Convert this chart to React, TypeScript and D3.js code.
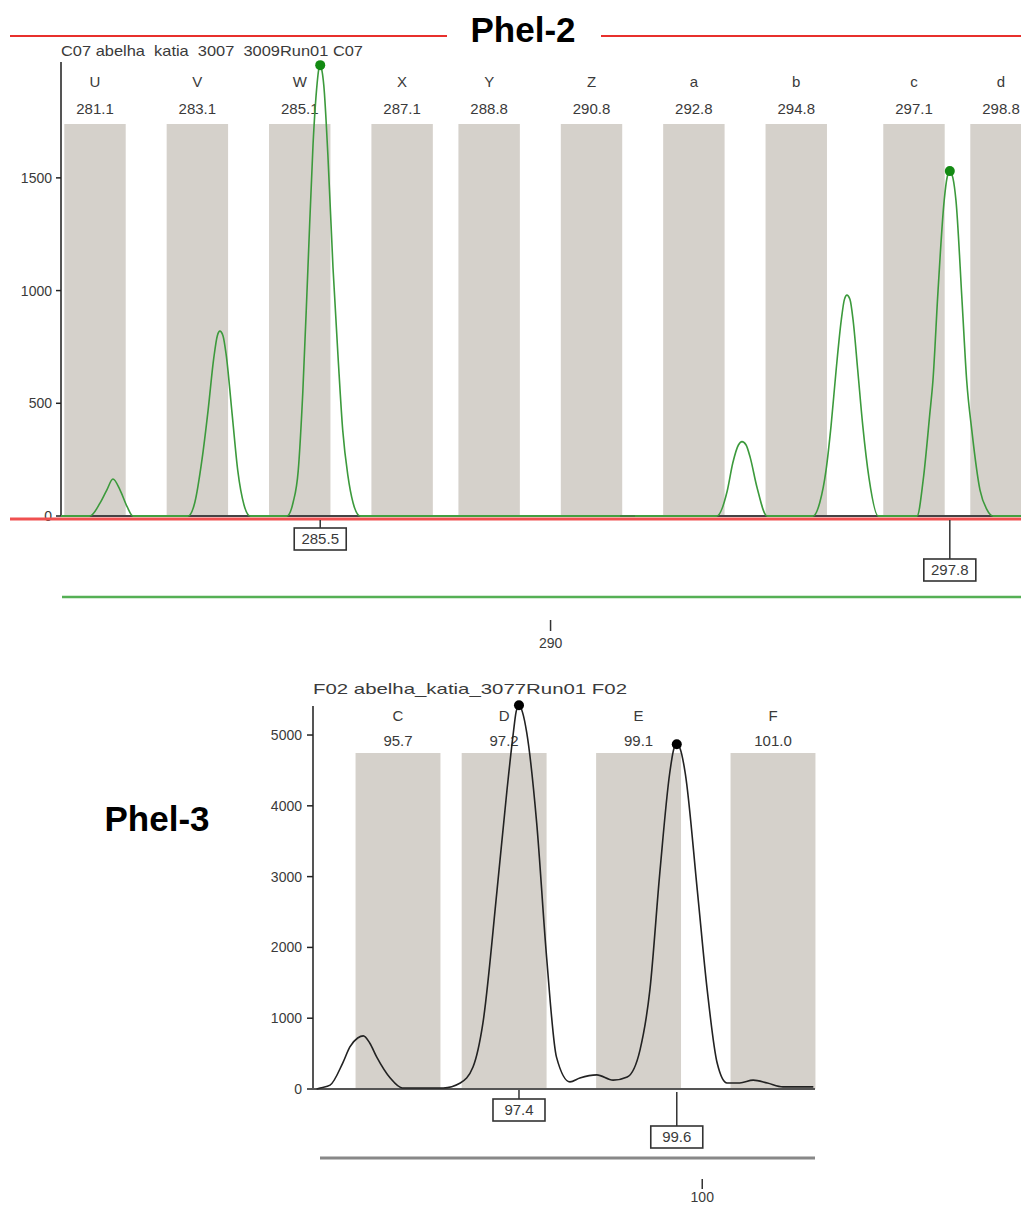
import React from "react";
import * as d3 from "d3";

// ---- Phel-2 (top panel) ----
const phel2Title = "Phel-2";
const phel2Sample = "C07 abelha  katia  3007  3009Run01 C07";
const phel2BinNames = ["U", "V", "W", "X", "Y", "Z", "a", "b", "c", "d"];
const phel2BinSizes = [281.1, 283.1, 285.1, 287.1, 288.8, 290.8, 292.8, 294.8, 297.1, 298.8];
const phel2YTicks = [0, 500, 1000, 1500];
const phel2XTicks = [290];
// trace: [size bp, RFU]
const phel2Trace: [number, number][] = [
  [280.44, 0], [281.0, 0], [281.2, 58], [281.33, 115], [281.45, 164], [281.59, 115], [281.73, 40], [281.84, 0],
  [282.92, 0], [283.05, 60], [283.19, 250], [283.31, 470], [283.42, 700], [283.49, 800], [283.54, 820],
  [283.6, 800], [283.66, 720], [283.78, 450], [283.89, 200], [284.01, 50], [284.13, 0],
  [284.85, 0], [284.97, 60], [285.07, 200], [285.16, 550], [285.26, 1100], [285.36, 1650], [285.44, 1920],
  [285.47, 1980], [285.5, 2000], [285.53, 1980], [285.57, 1910], [285.65, 1600], [285.75, 1100],
  [285.85, 700], [285.94, 380], [286.04, 180], [286.14, 60], [286.28, 0],
  [293.25, 0], [293.45, 110], [293.56, 235], [293.67, 315], [293.74, 330], [293.82, 315], [293.9, 260],
  [294.03, 130], [294.23, 0],
  [295.13, 0], [295.26, 60], [295.38, 200], [295.48, 400], [295.58, 650], [295.68, 870], [295.74, 960],
  [295.79, 980], [295.85, 960], [295.91, 870], [296.0, 650], [296.1, 400], [296.22, 170], [296.4, 0],
  [297.16, 0], [297.28, 160], [297.41, 455], [297.47, 600], [297.57, 1000], [297.69, 1400], [297.75, 1505],
  [297.8, 1530], [297.86, 1500], [297.92, 1400], [298.04, 950], [298.13, 600], [298.23, 380], [298.39, 115],
  [298.52, 30], [298.64, 0],
  [299.2, 0],
];
// peak area spans under the trace
const phel2Spans: [number, number][] = [
  [281.0, 281.84], [282.92, 284.13], [284.85, 286.28], [291.36, 291.65],
  [293.25, 294.23], [295.13, 296.4], [297.16, 298.64],
];
const phel2CallSizes = [285.5, 297.8];
const phel2CallHeights = [2000, 1530];
const phel2CallLabels = ["285.5", "297.8"];

// ---- Phel-3 (bottom panel) ----
const phel3Title = "Phel-3";
const phel3Sample = "F02 abelha_katia_3077Run01 F02";
const phel3BinNames = ["C", "D", "E", "F"];
const phel3BinSizes = [95.7, 97.2, 99.1, 101.0];
const phel3YTicks = [0, 1000, 2000, 3000, 4000, 5000];
const phel3XTicks = [100];
const phel3Trace: [number, number][] = [
  [94.55, 0], [94.6, 15], [94.74, 55], [94.92, 370], [95.02, 595], [95.13, 720], [95.21, 750], [95.3, 650],
  [95.4, 450], [95.59, 155], [95.76, 15], [96.34, 15], [96.58, 85], [96.76, 310], [96.9, 930], [97.1, 2810],
  [97.24, 4220], [97.33, 5030], [97.37, 5330], [97.41, 5420], [97.46, 5320], [97.52, 5030], [97.66, 3760],
  [97.8, 1865], [97.94, 450], [98.13, 100], [98.27, 155], [98.51, 200], [98.74, 125], [98.94, 170],
  [99.12, 550], [99.26, 1400], [99.4, 3050], [99.54, 4460], [99.6, 4810], [99.64, 4870], [99.69, 4800],
  [99.76, 4460], [99.93, 2810], [100.07, 1400], [100.21, 370], [100.35, 85], [100.53, 85], [100.72, 125],
  [100.92, 85], [101.14, 30], [101.57, 30],
];
const phel3CallSizes = [97.41, 99.64];
const phel3CallHeights = [5420, 4870];
const phel3CallLabels = ["97.4", "99.6"];

const FONT = "'Liberation Sans', Arial, sans-serif";
const TXT = "#3a3a3a";
const BIN = "#d5d1cb";

function LabelBox({ x, y, text }: { x: number; y: number; text: string }) {
  const w = 52;
  const h = 22;
  return (
    <g>
      <rect x={x - w / 2} y={y} width={w} height={h} fill="white" stroke="#333" strokeWidth={1.6} />
      <text x={x} y={y + h / 2 + 5} textAnchor="middle" fontSize={15} fill={TXT} fontFamily={FONT}>
        {text}
      </text>
    </g>
  );
}

export default function App() {
  // top scales
  const x2 = d3.scaleLinear().domain([281.1, 298.8]).range([95, 1001]);
  const y2 = d3.scaleLinear().domain([0, 2014]).range([516, 62]);
  const line2 = d3.line<[number, number]>().x(d => x2(d[0])).y(d => y2(d[1])).curve(d3.curveMonotoneX);

  // bottom scales
  const x3 = d3.scaleLinear().domain([95.7, 101.0]).range([398, 773]);
  const y3 = d3.scaleLinear().domain([0, 5410]).range([1089, 706]);
  const line3 = d3.line<[number, number]>().x(d => x3(d[0])).y(d => y3(d[1])).curve(d3.curveMonotoneX);

  const binHalf = 0.6;
  const green = "#3c9a3c";

  return (
    <svg width={1021} height={1205} style={{ position: "absolute", left: 0, top: 0, background: "white" }}>
      {/* ---------- Phel-2 ---------- */}
      <line x1={10} x2={447} y1={36} y2={36} stroke="#e8302c" strokeWidth={2} />
      <line x1={601} x2={1021} y1={36} y2={36} stroke="#e8302c" strokeWidth={2} />
      <text x={523} y={42} textAnchor="middle" fontSize={35} fontWeight="bold" fontFamily={FONT} fill="#000">
        {phel2Title}
      </text>
      <text x={61} y={56} fontSize={15} fill={TXT} fontFamily={FONT} textLength={302} lengthAdjust="spacingAndGlyphs" style={{ whiteSpace: "pre" }}>
        {phel2Sample}
      </text>

      {phel2BinSizes.map((s, i) => (
        <g key={"b2" + i}>
          <rect x={x2(s - binHalf)} y={124} width={x2(s + binHalf) - x2(s - binHalf)} height={516 - 124} fill={BIN} />
          <text x={x2(s)} y={87} textAnchor="middle" fontSize={15} fill={TXT} fontFamily={FONT}>
            {phel2BinNames[i]}
          </text>
          <text x={x2(s)} y={114} textAnchor="middle" fontSize={15} fill={TXT} fontFamily={FONT}>
            {s.toFixed(1)}
          </text>
        </g>
      ))}

      {/* y axis */}
      <line x1={61} x2={61} y1={62} y2={y2(0)} stroke="#555" strokeWidth={2} />
      {phel2YTicks.map(t => (
        <g key={"yt2" + t}>
          <line x1={56} x2={61} y1={y2(t)} y2={y2(t)} stroke="#222" strokeWidth={1.5} />
          <text x={52} y={y2(t) + 5} textAnchor="end" fontSize={14} fill={TXT} fontFamily={FONT}>
            {t}
          </text>
        </g>
      ))}

      {/* baselines */}
      <line x1={10} x2={1021} y1={519} y2={519} stroke="#f05050" strokeWidth={3} />
      <line x1={61} x2={1021} y1={y2(0)} y2={y2(0)} stroke="#55b055" strokeWidth={2} />
      {phel2Spans.map((s, i) => (
        <line key={"sp2" + i} x1={x2(s[0])} x2={x2(s[1])} y1={y2(0)} y2={y2(0)} stroke="#444" strokeWidth={2} />
      ))}

      <path d={line2(phel2Trace) || ""} fill="none" stroke={green} strokeWidth={1.6} />

      {phel2CallSizes.map((s, i) => (
        <circle key={"c2" + i} cx={x2(s)} cy={y2(phel2CallHeights[i])} r={5} fill="#138a13" />
      ))}

      {/* size call labels */}
      <line x1={x2(phel2CallSizes[0])} x2={x2(phel2CallSizes[0])} y1={520} y2={528} stroke="#333" strokeWidth={1.5} />
      <LabelBox x={x2(phel2CallSizes[0])} y={528} text={phel2CallLabels[0]} />
      <line x1={x2(phel2CallSizes[1])} x2={x2(phel2CallSizes[1])} y1={520} y2={559} stroke="#333" strokeWidth={1.5} />
      <LabelBox x={x2(phel2CallSizes[1])} y={559} text={phel2CallLabels[1]} />

      {/* lower size axis */}
      <line x1={62} x2={1021} y1={597} y2={597} stroke="#55b055" strokeWidth={2.5} />
      {phel2XTicks.map(t => (
        <g key={"xt2" + t}>
          <line x1={x2(t)} x2={x2(t)} y1={620} y2={631} stroke="#333" strokeWidth={1.5} />
          <text x={x2(t)} y={648} textAnchor="middle" fontSize={14} fill={TXT} fontFamily={FONT}>
            {t}
          </text>
        </g>
      ))}

      {/* ---------- Phel-3 ---------- */}
      <text x={157} y={831} textAnchor="middle" fontSize={35} fontWeight="bold" fontFamily={FONT} fill="#000">
        {phel3Title}
      </text>
      <text x={313} y={694} fontSize={15} fill={TXT} fontFamily={FONT} textLength={314} lengthAdjust="spacingAndGlyphs">
        {phel3Sample}
      </text>

      {phel3BinSizes.map((s, i) => (
        <g key={"b3" + i}>
          <rect x={x3(s - binHalf)} y={753} width={x3(s + binHalf) - x3(s - binHalf)} height={1089 - 753} fill={BIN} />
          <text x={x3(s)} y={721} textAnchor="middle" fontSize={15} fill={TXT} fontFamily={FONT}>
            {phel3BinNames[i]}
          </text>
          <text x={x3(s)} y={746} textAnchor="middle" fontSize={15} fill={TXT} fontFamily={FONT}>
            {s.toFixed(1)}
          </text>
        </g>
      ))}

      <line x1={313} x2={313} y1={706} y2={y3(0)} stroke="#555" strokeWidth={2} />
      {phel3YTicks.map(t => (
        <g key={"yt3" + t}>
          <line x1={307} x2={313} y1={y3(t)} y2={y3(t)} stroke="#222" strokeWidth={1.5} />
          <text x={302} y={y3(t) + 5} textAnchor="end" fontSize={14} fill={TXT} fontFamily={FONT}>
            {t}
          </text>
        </g>
      ))}
      <line x1={311} x2={815} y1={y3(0)} y2={y3(0)} stroke="#555" strokeWidth={2} />

      <path d={line3(phel3Trace) || ""} fill="none" stroke="#222" strokeWidth={1.6} />

      {phel3CallSizes.map((s, i) => (
        <circle key={"c3" + i} cx={x3(s)} cy={y3(phel3CallHeights[i])} r={5} fill="#000" />
      ))}

      <line x1={x3(phel3CallSizes[0])} x2={x3(phel3CallSizes[0])} y1={1090} y2={1099} stroke="#333" strokeWidth={1.5} />
      <LabelBox x={x3(phel3CallSizes[0])} y={1099} text={phel3CallLabels[0]} />
      <line x1={x3(phel3CallSizes[1])} x2={x3(phel3CallSizes[1])} y1={1092} y2={1126} stroke="#333" strokeWidth={1.5} />
      <LabelBox x={x3(phel3CallSizes[1])} y={1126} text={phel3CallLabels[1]} />

      <line x1={320} x2={815} y1={1158} y2={1158} stroke="#888" strokeWidth={3} />
      {phel3XTicks.map(t => (
        <g key={"xt3" + t}>
          <line x1={x3(t)} x2={x3(t)} y1={1179} y2={1189} stroke="#333" strokeWidth={1.5} />
          <text x={x3(t)} y={1202} textAnchor="middle" fontSize={14} fill={TXT} fontFamily={FONT}>
            {t}
          </text>
        </g>
      ))}
    </svg>
  );
}
